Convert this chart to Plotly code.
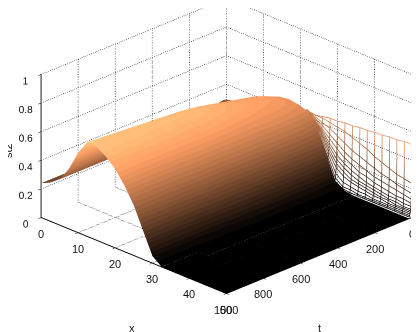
#!/usr/bin/env python

import numpy as np
import plotly.graph_objs as go

X_TICKS = [0, 10, 20, 30, 40, 50]
T_TICKS = [0, 200, 400, 600, 800, 1000]
Z_TICKS = [0, 0.2, 0.4, 0.6, 0.8, 1]

# main sheet, rows are t, columns are x
HILL_X = [0, 2.5, 5, 7.5, 10, 12.5, 15, 17.5, 20, 22.5, 25, 27.5, 30, 32.5, 35, 40, 45, 50]
HILL_T = [14, 50, 100, 200, 300, 400, 500, 600, 700, 800, 900, 1000]
HILL_Z = [
    [.30, .32, .35, .38, .41, .45, .48, .49, .48, .46, .37, .22, .05, .01, 0, 0, 0, 0],
    [.29, .31, .34, .38, .43, .47, .50, .51, .50, .46, .37, .22, .05, .01, 0, 0, 0, 0],
    [.27, .30, .33, .38, .45, .50, .53, .53, .51, .47, .38, .22, .06, .01, 0, 0, 0, 0],
    [.25, .28, .32, .39, .47, .53, .55, .55, .52, .47, .38, .22, .06, .01, 0, 0, 0, 0],
    [.24, .27, .32, .40, .49, .56, .58, .57, .53, .47, .37, .22, .06, .01, 0, 0, 0, 0],
    [.24, .26, .31, .40, .51, .59, .61, .59, .54, .47, .37, .21, .06, .01, 0, 0, 0, 0],
    [.23, .26, .31, .40, .52, .61, .63, .60, .55, .47, .36, .21, .06, .01, 0, 0, 0, 0],
    [.23, .26, .31, .41, .53, .62, .64, .60, .55, .47, .36, .21, .05, .01, 0, 0, 0, 0],
    [.24, .27, .32, .41, .54, .63, .64, .61, .55, .46, .36, .20, .05, .01, 0, 0, 0, 0],
    [.24, .27, .32, .42, .55, .64, .65, .61, .55, .46, .35, .20, .05, 0, 0, 0, 0, 0],
    [.24, .27, .32, .42, .55, .65, .65, .61, .55, .46, .35, .20, .05, 0, 0, 0, 0, 0],
    [.24, .27, .32, .42, .56, .66, .65, .61, .55, .46, .35, .20, .05, 0, 0, 0, 0, 0],
]

# steep wall at the start, drawn as a mesh
WALL_X = [22, 24, 26, 28, 30, 32, 34, 36, 38, 40, 42, 44, 46, 48, 50]
WALL_T = [0, 1, 2, 3, 4, 5, 6, 7, 8, 10, 12, 14]
WALL_Z = [
    [.44, .44, .45, .46, .46, .47, .47, .48, .48, .49, .49, .50, .50, .51, .51],
    [.45, .44, .44, .43, .42, .41, .39, .37, .35, .32, .30, .28, .26, .25, .24],
    [.45, .43, .41, .39, .36, .33, .30, .28, .26, .24, .22, .21, .19, .18, .17],
    [.45, .42, .39, .35, .31, .27, .24, .22, .20, .18, .17, .16, .15, .14, .13],
    [.46, .42, .37, .32, .27, .23, .20, .17, .16, .14, .13, .12, .11, .11, .10],
    [.46, .41, .36, .29, .23, .19, .16, .14, .12, .11, .10, .09, .09, .08, .08],
    [.46, .41, .35, .27, .20, .16, .13, .11, .10, .09, .08, .07, .07, .06, .06],
    [.46, .41, .34, .25, .17, .13, .10, .09, .08, .07, .06, .06, .05, .05, .05],
    [.46, .41, .33, .23, .14, .10, .08, .07, .06, .05, .05, .04, .04, .04, .04],
    [.46, .41, .32, .21, .10, .06, .05, .04, .04, .03, .03, .03, .03, .03, .03],
    [.46, .41, .31, .19, .07, .03, .03, .02, .02, .02, .02, .02, .02, .02, .02],
    [.46, .41, .31, .18, .05, .02, .01, .01, .01, .01, .01, .01, .01, .01, .01],
]

Z_TOP = 0.68
LEVELS = 28
FONT = dict(family="Liberation Sans", size=11, color="#111111")


def copper(v):
    return "rgb({},{},{})".format(int(255 * min(1, 1.25 * v)), int(255 * 0.7812 * v), int(255 * 0.4975 * v))


def stepped_copper():
    scale = []
    for i in range(LEVELS):
        scale.append([i / LEVELS, copper(i / (LEVELS - 1))])
        scale.append([(i + 1) / LEVELS, copper(i / (LEVELS - 1))])
    return scale


def grid_line(fig, xs, ts, zs):
    fig.add_trace(go.Scatter3d(x=xs, y=ts, z=zs, mode="lines", hoverinfo="skip", showlegend=False,
                               line=dict(color="#222222", width=1.5, dash="dot")))


def add_grid(fig):
    for v in X_TICKS[1:]:
        grid_line(fig, [v, v], [1000, 0], [0, 0])
    for v in X_TICKS[1:]:
        grid_line(fig, [v, v], [0, 0], [0, 1])
    for v in T_TICKS[:-1]:
        grid_line(fig, [0, 50], [v, v], [0, 0])
    for v in T_TICKS[:-1]:
        grid_line(fig, [0, 0], [v, v], [0, 1])
    for v in Z_TICKS[1:]:
        grid_line(fig, [0, 0, 50], [1000, 0, 0], [v, v, v])


def add_wall(fig):
    z = np.array(WALL_Z)
    for i, t in enumerate(WALL_T):
        fig.add_trace(go.Scatter3d(x=WALL_X, y=[t] * len(WALL_X), z=z[i], mode="lines",
                                   hoverinfo="skip", showlegend=False,
                                   line=dict(color=z[i], colorscale=stepped_copper(), cmin=0, cmax=Z_TOP, width=1.5)))
    for j, x in enumerate(WALL_X):
        fig.add_trace(go.Scatter3d(x=[x] * len(WALL_T), y=WALL_T, z=z[:, j], mode="lines",
                                   hoverinfo="skip", showlegend=False,
                                   line=dict(color=z[:, j], colorscale=stepped_copper(), cmin=0, cmax=Z_TOP, width=1.5)))


def axis(vals, rng, labels=True):
    return dict(range=rng, tickvals=vals, title="", showgrid=False, zeroline=False, showbackground=False,
                showline=True, linecolor="black", linewidth=2, ticks="outside", ticklen=4, tickangle=0,
                showticklabels=labels, tickcolor="black", tickfont=FONT, showspikes=False)


def tick_notes():
    # horizontal labels straight under the ticks, like the original; 50 and 1000 collide at the corner
    notes = []
    for v in X_TICKS:
        notes.append(dict(x=v, y=1000, z=0, text=str(v), showarrow=False, yshift=-16, font=FONT))
    for v in T_TICKS:
        notes.append(dict(x=50, y=v, z=0, text=str(v), showarrow=False, yshift=-16, font=FONT))
    return notes


def build_plot():
    fig = go.Figure()
    add_grid(fig)
    fig.add_trace(go.Surface(x=HILL_X, y=HILL_T, z=HILL_Z, colorscale=stepped_copper(), cmin=0, cmax=Z_TOP,
                             showscale=False, hoverinfo="skip",
                             lighting=dict(ambient=1, diffuse=0, specular=0, fresnel=0)))
    add_wall(fig)
    fig.update_layout(
        width=419, height=332, margin=dict(l=0, r=0, t=0, b=0), paper_bgcolor="white",
        scene=dict(
            xaxis=axis(X_TICKS, [0, 50], labels=False),
            yaxis=axis(T_TICKS, [1000, 0], labels=False),
            zaxis=axis(Z_TICKS, [0, 1]),
            aspectmode="manual", aspectratio=dict(x=1.579, y=1.579, z=0.945),
            camera=dict(projection=dict(type="orthographic"),
                        eye=dict(x=0.762, y=-0.838, z=0.324), up=dict(x=0, y=0, z=1),
                        center=dict(x=-0.038, y=-0.038, z=-0.185)),
            domain=dict(x=[0, 1], y=[0, 1]),
            annotations=tick_notes(),
        ),
        annotations=[
            dict(text="x", x=124 / 419, y=1 - 320 / 332, xref="paper", yref="paper", showarrow=False,
                 xanchor="center", yanchor="middle", font=FONT),
            dict(text="t", x=311 / 419, y=1 - 320 / 332, xref="paper", yref="paper", showarrow=False,
                 xanchor="center", yanchor="middle", font=FONT),
            dict(text="st2", x=0, y=1 - 143 / 332, xref="paper", yref="paper", showarrow=False, textangle=-90,
                 xanchor="left", xshift=-8, yanchor="middle", font=FONT),
        ],
    )
    fig.write_html("out.html")


build_plot()
